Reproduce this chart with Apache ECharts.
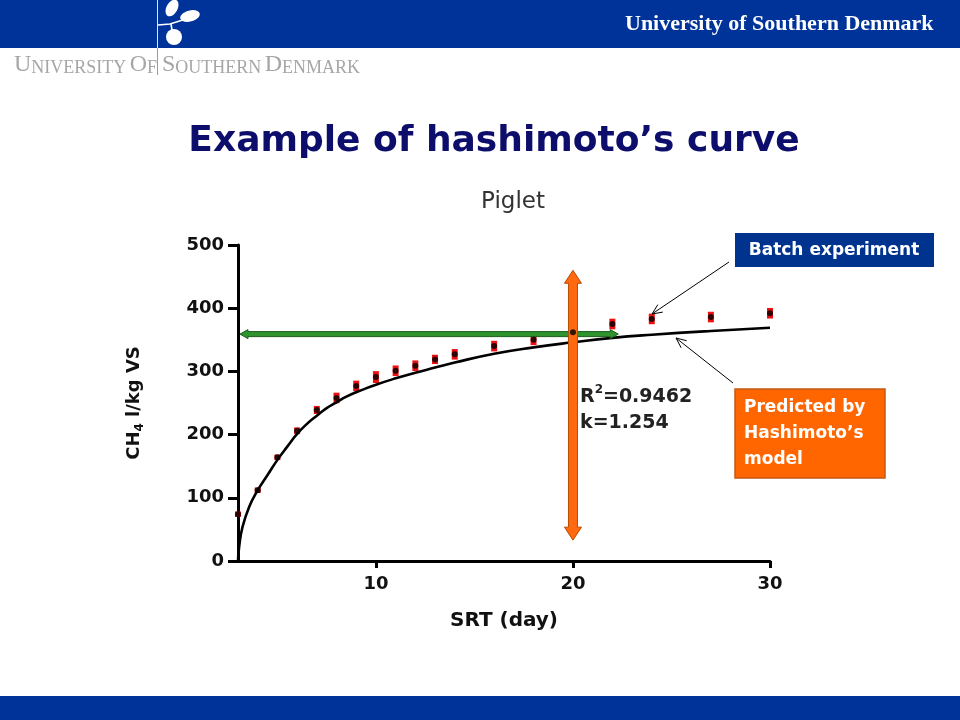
<!DOCTYPE html>
<html>
<head>
<meta charset="utf-8">
<script src="https://cdn.jsdelivr.net/npm/echarts@6/dist/echarts.min.js"></script>
<style>
html,body{margin:0;padding:0;background:#fff;}
#c{width:960px;height:720px;}
</style>
</head>
<body>
<div id="c"></div>
<script>
// ---- data ----
const chartTitle = 'Piglet';
const slideTitle = 'Example of hashimoto\u2019s curve';
const xTicks = [10, 20, 30];
const yTicks = [0, 100, 200, 300, 400, 500];

// Hashimoto model curve
const curveX = [3, 3.06, 3.23, 3.57, 4, 4.5, 5, 5.5, 6, 6.5, 7, 7.5, 8, 8.5, 9.4, 10, 11, 12, 13, 14, 16, 18, 20, 22, 24, 27, 30];
const curveY = [0, 23, 54, 86, 112, 136, 160, 181, 201, 217, 230, 242, 251, 260, 272, 279, 289, 298, 306, 314, 328, 338, 346, 353, 358, 364, 369];

// Batch experiment points (mean) and error
const ptX   = [3, 4, 5, 6, 7, 8, 9, 10, 11, 12, 13, 14, 16, 18, 20, 22, 24, 27, 30];
const ptY   = [74, 112, 164, 206, 239, 258, 277, 291, 301, 309, 319, 327, 340, 350, 362, 375, 383, 386, 392];
const ptErr = [2, 2, 2, 3, 4, 6, 6, 7, 6, 6, 5, 6, 6, 6, 5, 6, 6, 6, 6];

// annotation arrows in data space [x1, y1, x2, y2]
const greenArrow  = [3.1, 359, 22.3, 359];
const orangeArrow = [20, 460, 20, 33];

const statsR2 = '0.9462';
const statsK = '1.254';

// ---- rendering ----
const FONT = 'DejaVu Sans';
const chart = echarts.init(document.getElementById('c'), null, {renderer: 'canvas'});

function blockArrowPoints(p1, p2, bodyW, headW, headL) {
  const dx = p2[0] - p1[0], dy = p2[1] - p1[1];
  const L = Math.sqrt(dx * dx + dy * dy);
  const ux = dx / L, uy = dy / L;
  const nx = -uy, ny = ux;
  const b = bodyW / 2, h = headW / 2;
  const P = (t, s) => [p1[0] + ux * t + nx * s, p1[1] + uy * t + ny * s];
  return [
    P(0, 0), P(headL, h), P(headL, b), P(L - headL, b), P(L - headL, h),
    P(L, 0), P(L - headL, -h), P(L - headL, -b), P(headL, -b), P(headL, -h)
  ];
}

function arrowSeries(name, arr, fill, stroke, bodyW, headW, headL) {
  return {
    type: 'custom', name: name, clip: false, z: 5,
    data: [arr],
    renderItem: function (params, api) {
      const a = api.coord([api.value(0), api.value(1)]);
      const b = api.coord([api.value(2), api.value(3)]);
      return {
        type: 'polygon',
        shape: {points: blockArrowPoints(a, b, bodyW, headW, headL)},
        style: {fill: fill, stroke: stroke, lineWidth: 1}
      };
    }
  };
}

function lineArrow(from, tip) {
  const dx = from[0] - tip[0], dy = from[1] - tip[1];
  const L = Math.sqrt(dx * dx + dy * dy);
  const ux = dx / L, uy = dy / L;
  const len = 11, ang = 24 * Math.PI / 180;
  const r = (c, s) => [tip[0] + len * (ux * c - uy * s), tip[1] + len * (uy * c + ux * s)];
  const c = Math.cos(ang), s = Math.sin(ang);
  return [
    {type: 'line', shape: {x1: from[0], y1: from[1], x2: tip[0], y2: tip[1]}, style: {stroke: '#000', lineWidth: 1}, z: 20},
    {type: 'polyline', shape: {points: [r(c, s), tip, r(c, -s)]}, style: {stroke: '#000', lineWidth: 1, fill: null}, z: 20}
  ];
}

const curveData = curveX.map((x, i) => [x, curveY[i]]);
const ptData = ptX.map((x, i) => [x, ptY[i]]);
const errData = ptX.map((x, i) => [x, ptY[i], ptErr[i]]);

const boldText = {fontFamily: FONT, fontWeight: 'bold', color: '#111'};
const BLUE = '#003399';

const graphics = [
  // top banner
  {type: 'rect', shape: {x: 0, y: 0, width: 960, height: 48}, style: {fill: BLUE}, z: 10},
  {type: 'text', x: 625, y: 24, style: {text: 'University of Southern Denmark', fill: '#fff', font: 'bold 22px "Liberation Serif"', textVerticalAlign: 'middle'}, z: 11},
  // logo
  {type: 'line', shape: {x1: 157.5, y1: 0, x2: 157.5, y2: 48}, style: {stroke: '#dfe6f5', lineWidth: 1}, z: 11},
  {type: 'line', shape: {x1: 157.5, y1: 48, x2: 157.5, y2: 75}, style: {stroke: '#9a9a9a', lineWidth: 1}, z: 11},
  {type: 'polyline', shape: {points: [[158, 25], [170, 24], [186, 19]]}, style: {stroke: '#fff', lineWidth: 1.6, fill: null}, z: 11},
  {type: 'line', shape: {x1: 171, y1: 24, x2: 172, y2: 30}, style: {stroke: '#fff', lineWidth: 1.6}, z: 11},
  {type: 'ellipse', shape: {cx: 172, cy: 8, rx: 5.5, ry: 9}, rotation: -0.5, originX: 172, originY: 8, style: {fill: '#fff'}, z: 11},
  {type: 'ellipse', shape: {cx: 190, cy: 16, rx: 10, ry: 5.5}, rotation: 0.25, originX: 190, originY: 16, style: {fill: '#fff'}, z: 11},
  {type: 'circle', shape: {cx: 174, cy: 37, r: 8}, style: {fill: '#fff'}, z: 11},
  // grey wordmark
  {type: 'text', x: 14, y: 65, style: {
    text: '{c|U}{s|NIVERSITY} {c|O}{s|F}', textVerticalAlign: 'middle',
    rich: {c: {font: '24px "Liberation Serif"', fill: '#a6a6a6', verticalAlign: 'bottom', lineHeight: 24}, s: {font: '18px "Liberation Serif"', fill: '#a6a6a6', verticalAlign: 'bottom', lineHeight: 20}}
  }, z: 11},
  {type: 'text', x: 162, y: 65, style: {
    text: '{c|S}{s|OUTHERN} {c|D}{s|ENMARK}', textVerticalAlign: 'middle',
    rich: {c: {font: '24px "Liberation Serif"', fill: '#a6a6a6', verticalAlign: 'bottom', lineHeight: 24}, s: {font: '18px "Liberation Serif"', fill: '#a6a6a6', verticalAlign: 'bottom', lineHeight: 20}}
  }, z: 11},
  // bottom banner
  {type: 'rect', shape: {x: 0, y: 696, width: 960, height: 24}, style: {fill: BLUE}, z: 10},
  // slide title
  {type: 'text', x: 494, y: 142, style: {text: slideTitle, fill: '#0d0d6b', font: 'bold 36px "DejaVu Sans"', textAlign: 'center', textVerticalAlign: 'middle'}, z: 11},
  // stats text
  {type: 'text', x: 580, y: 410, style: {
    text: '{r|R}{p|2}{r|=' + statsR2 + '}\n{r|k=' + statsK + '}',
    textVerticalAlign: 'middle',
    rich: {r: {fontFamily: FONT, fontWeight: 'bold', fontSize: 19, fill: '#222', lineHeight: 26}, p: {fontFamily: FONT, fontWeight: 'bold', fontSize: 12, fill: '#222', verticalAlign: 'top', lineHeight: 14}}
  }, z: 12},
  // callout boxes
  {type: 'rect', shape: {x: 735, y: 233, width: 199, height: 34}, style: {fill: '#00338d'}, z: 12},
  {type: 'text', x: 834, y: 251, style: {text: 'Batch experiment', fill: '#fff', font: 'bold 17px "DejaVu Sans"', textAlign: 'center', textVerticalAlign: 'middle'}, z: 13},
  {type: 'rect', shape: {x: 735, y: 389, width: 150, height: 89}, style: {fill: '#ff6600', stroke: '#c55a11', lineWidth: 1.5}, z: 12},
  {type: 'text', x: 744, y: 434, style: {text: 'Predicted by\nHashimoto\u2019s\nmodel', fill: '#fff', font: 'bold 17px "DejaVu Sans"', lineHeight: 26, textVerticalAlign: 'middle'}, z: 13}
].concat(lineArrow([729, 262], [652, 314])).concat(lineArrow([733, 383], [676, 338]));

const option = {
  animation: false,
  backgroundColor: '#fff',
  title: {
    text: chartTitle, left: 508, top: 186, textAlign: 'center',
    textStyle: {fontFamily: FONT, fontWeight: 'normal', fontSize: 23, color: '#333'}
  },
  grid: {left: 238, right: 190, top: 245, bottom: 159, containLabel: false},
  xAxis: {
    type: 'value', min: 3, max: 30,
    axisLine: {show: true, onZero: false, lineStyle: {color: '#000', width: 3}},
    axisTick: {show: true, customValues: xTicks, length: 7, lineStyle: {color: '#000', width: 3}},
    axisLabel: Object.assign({customValues: xTicks, fontSize: 18, margin: 14}, boldText),
    splitLine: {show: false},
    name: 'SRT (day)', nameLocation: 'middle', nameGap: 50,
    nameTextStyle: Object.assign({fontSize: 20}, boldText)
  },
  yAxis: {
    type: 'value', min: yTicks[0], max: yTicks[yTicks.length - 1], interval: 100,
    axisLine: {show: true, lineStyle: {color: '#000', width: 3}},
    axisTick: {show: true, length: 10, lineStyle: {color: '#000', width: 3}},
    axisLabel: Object.assign({fontSize: 18, margin: 14}, boldText),
    splitLine: {show: false},
    name: '{a|CH}{s|4}{a| l/kg VS}', nameLocation: 'middle', nameRotate: 90, nameGap: 92,
    nameTextStyle: {
      rich: {
        a: {fontFamily: FONT, fontWeight: 'bold', fontSize: 18, color: '#111', lineHeight: 24},
        s: {fontFamily: FONT, fontWeight: 'bold', fontSize: 12, color: '#111', verticalAlign: 'bottom', lineHeight: 12}
      }
    }
  },
  series: [
    {
      type: 'custom', name: 'error', z: 3,
      data: errData,
      renderItem: function (params, api) {
        const top = api.coord([api.value(0), api.value(1) + api.value(2)]);
        const bot = api.coord([api.value(0), api.value(1) - api.value(2)]);
        return {type: 'rect', shape: {x: top[0] - 3, y: top[1] - 1.5, width: 6, height: bot[1] - top[1] + 3}, style: {fill: '#ee1111'}};
      }
    },
    {
      type: 'line', name: 'Hashimoto', data: curveData, smooth: 0.5, showSymbol: false,
      lineStyle: {color: '#000', width: 2.6}, z: 4
    },
    {
      type: 'scatter', name: 'Batch experiment', data: ptData, symbol: 'circle', symbolSize: 6,
      itemStyle: {color: '#000'}, z: 6
    },
    arrowSeries('green', greenArrow, '#2e952e', '#1b5e1b', 5, 9, 8),
    arrowSeries('orange', orangeArrow, '#ff6a10', '#b84a00', 9, 17, 13)
  ],
  graphic: graphics
};
chart.setOption(option);
</script>
</body>
</html>
